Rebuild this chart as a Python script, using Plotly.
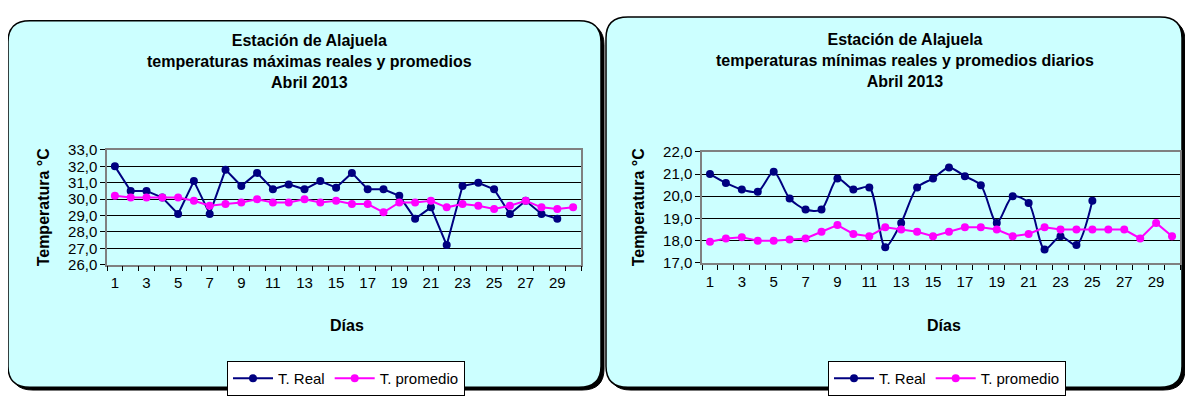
import plotly.graph_objects as go

# Page body has an 8px margin; size the figure so the whole page is 1193x407.
OFF = 8
W, H = 1193 - 2 * OFF, 407 - 2 * OFF

days = list(range(1, 31))
max_real = [32.0, 30.5, 30.5, 30.1, 29.1, 31.1, 29.1, 31.8, 30.8, 31.6, 30.6, 30.9, 30.6, 31.1, 30.7,
            31.6, 30.6, 30.6, 30.2, 28.8, 29.5, 27.2, 30.8, 31.0, 30.6, 29.1, 29.9, 29.1, 28.8]
max_avg = [30.2, 30.1, 30.1, 30.1, 30.1, 29.9, 29.6, 29.7, 29.8, 30.0, 29.8, 29.8, 30.0, 29.8, 29.9,
           29.7, 29.7, 29.2, 29.8, 29.8, 29.9, 29.5, 29.7, 29.6, 29.4, 29.6, 29.9, 29.5, 29.4, 29.5]
min_real = [21.0, 20.6, 20.3, 20.2, 21.1, 19.9, 19.4, 19.4, 20.8, 20.3, 20.4, 17.7, 18.8, 20.4, 20.8,
            21.3, 20.9, 20.5, 18.8, 20.0, 19.7, 17.6, 18.2, 17.8, 19.8]
min_avg = [17.95, 18.1, 18.15, 18.0, 18.0, 18.05, 18.1, 18.4, 18.7, 18.3, 18.2, 18.6, 18.5, 18.4, 18.2,
           18.4, 18.6, 18.6, 18.5, 18.2, 18.3, 18.6, 18.5, 18.5, 18.5, 18.5, 18.5, 18.1, 18.8, 18.2]
x_ticks = list(range(1, 30, 2))

FONT = "Liberation Sans Narrow, Arial Narrow, Liberation Sans, Arial, sans-serif"
NAVY = "#000080"
MAGENTA = "#FF00FF"
PANEL = "#CCFFFF"


def px(x):
    return (x - OFF) / W


def py(y):
    return 1 - (y - OFF) / H


def rrect(x0, y0, x1, y1, r):
    pts = [
        f"M {px(x0 + r)},{py(y0)}",
        f"L {px(x1 - r)},{py(y0)}",
        f"Q {px(x1)},{py(y0)} {px(x1)},{py(y0 + r)}",
        f"L {px(x1)},{py(y1 - r)}",
        f"Q {px(x1)},{py(y1)} {px(x1 - r)},{py(y1)}",
        f"L {px(x0 + r)},{py(y1)}",
        f"Q {px(x0)},{py(y1)} {px(x0)},{py(y1 - r)}",
        f"L {px(x0)},{py(y0 + r)}",
        f"Q {px(x0)},{py(y0)} {px(x0 + r)},{py(y0)}",
        "Z",
    ]
    return " ".join(pts)


fig = go.Figure()

fig.add_trace(go.Scatter(x=days[:len(max_real)], y=max_real, mode="lines+markers", name="T. Real",
                         line=dict(color=NAVY, width=2), marker=dict(color=NAVY, size=8),
                         xaxis="x", yaxis="y", legend="legend"))
fig.add_trace(go.Scatter(x=days, y=max_avg, mode="lines+markers", name="T. promedio",
                         line=dict(color=MAGENTA, width=2), marker=dict(color=MAGENTA, size=8),
                         xaxis="x", yaxis="y", legend="legend"))
fig.add_trace(go.Scatter(x=days[:len(min_real)], y=min_real, mode="lines+markers", name="T. Real",
                         line=dict(color=NAVY, width=2, shape="spline", smoothing=0.8),
                         marker=dict(color=NAVY, size=8),
                         xaxis="x2", yaxis="y2", legend="legend2"))
fig.add_trace(go.Scatter(x=days, y=min_avg, mode="lines+markers", name="T. promedio",
                         line=dict(color=MAGENTA, width=2), marker=dict(color=MAGENTA, size=8),
                         xaxis="x2", yaxis="y2", legend="legend2"))

shapes = [
    dict(type="path", xref="paper", yref="paper", path=rrect(11, 15, 604, 398, 22),
         fillcolor="black", line=dict(color="black", width=1), layer="below"),
    dict(type="path", xref="paper", yref="paper", path=rrect(8, 12, 601, 395, 22),
         fillcolor=PANEL, line=dict(color="black", width=1.5), layer="below"),
    dict(type="path", xref="paper", yref="paper", path=rrect(609, 11, 1185, 398, 22),
         fillcolor="black", line=dict(color="black", width=1), layer="below"),
    dict(type="path", xref="paper", yref="paper", path=rrect(606, 8, 1182, 395, 22),
         fillcolor=PANEL, line=dict(color="black", width=1.5), layer="below"),
]

xcommon = dict(range=[0.5, 30.5], tickmode="array", tickvals=x_ticks, ticks="",
               showgrid=False, zeroline=False, showline=True, linecolor="#808080", linewidth=1.5,
               mirror=True, tickfont=dict(family=FONT, size=15, color="black"), ticklabelstandoff=4,
               minor=dict(tickmode="linear", tick0=0.5, dtick=1, ticks="outside", ticklen=5,
                          tickcolor="black", showgrid=False))
ycommon = dict(dtick=1, tickformat=".1f", ticks="outside", ticklen=5, tickcolor="black",
               showgrid=True, gridcolor="black", gridwidth=1, zeroline=False, showline=True,
               linecolor="#808080", linewidth=1.5, mirror=True,
               tickfont=dict(family=FONT, size=15, color="black"))

fig.update_layout(
    width=W, height=H, autosize=False,
    margin=dict(l=0, r=0, t=0, b=0),
    paper_bgcolor="white", plot_bgcolor="white",
    separators=",.",
    font=dict(family=FONT, color="black"),
    shapes=shapes,
    xaxis=dict(domain=[px(107), px(581)], anchor="y", **xcommon),
    yaxis=dict(domain=[py(267), py(147)], range=[26, 33], anchor="x", **ycommon),
    xaxis2=dict(domain=[px(702), px(1180)], anchor="y2", **xcommon),
    yaxis2=dict(domain=[py(265), py(149)], range=[17, 22], anchor="x2", **ycommon),
    legend=dict(orientation="h", x=px(346), y=py(386), xanchor="center", yanchor="middle",
                bgcolor="white", bordercolor="black", borderwidth=1,
                font=dict(family=FONT, size=15, color="black"), itemwidth=40),
    legend2=dict(orientation="h", x=px(947), y=py(386), xanchor="center", yanchor="middle",
                 bgcolor="white", bordercolor="black", borderwidth=1,
                 font=dict(family=FONT, size=15, color="black"), itemwidth=40),
)

title_l = "<b>Estación de Alajuela<br>temperaturas máximas reales y promedios<br>Abril 2013</b>"
title_r = "<b>Estación de Alajuela<br>temperaturas mínimas reales y promedios diarios<br>Abril 2013</b>"
annots = [
    dict(text=title_l, x=px(309), y=py(55), xref="paper", yref="paper", showarrow=False,
         xanchor="center", yanchor="middle", font=dict(family=FONT, size=16, color="black")),
    dict(text=title_r, x=px(905), y=py(53), xref="paper", yref="paper", showarrow=False,
         xanchor="center", yanchor="middle", font=dict(family=FONT, size=16, color="black")),
    dict(text="<b>Temperatura °C</b>", x=px(43), y=py(207), xref="paper", yref="paper",
         showarrow=False, textangle=-90, xanchor="center", yanchor="middle",
         font=dict(family=FONT, size=16, color="black")),
    dict(text="<b>Temperatura °C</b>", x=px(638), y=py(207), xref="paper", yref="paper",
         showarrow=False, textangle=-90, xanchor="center", yanchor="middle",
         font=dict(family=FONT, size=16, color="black")),
    dict(text="<b>Días</b>", x=px(347), y=py(330), xref="paper", yref="paper", showarrow=False,
         xanchor="center", yanchor="middle", font=dict(family=FONT, size=16, color="black")),
    dict(text="<b>Días</b>", x=px(944), y=py(330), xref="paper", yref="paper", showarrow=False,
         xanchor="center", yanchor="middle", font=dict(family=FONT, size=16, color="black")),
]
fig.update_layout(annotations=annots)

fig.write_html("out.html")
